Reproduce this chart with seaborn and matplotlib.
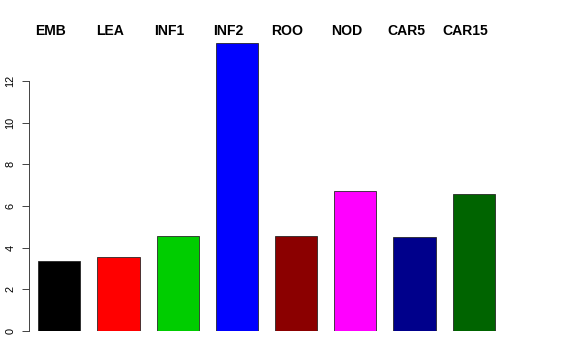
import matplotlib
matplotlib.use("Agg")
import matplotlib.pyplot as plt
import seaborn as sns
import pandas as pd

categories = ["EMB", "LEA", "INF1", "INF2", "ROO", "NOD", "CAR5", "CAR15"]
values = [3.37, 3.55, 4.54, 13.83, 4.56, 6.70, 4.53, 6.60]
colors = ["#000000", "#FF0000", "#00CD00", "#0000FF", "#8B0000", "#FF00FF", "#00008B", "#006400"]
yticks = [0, 2, 4, 6, 8, 10, 12]

sns.set_style("white")
plt.rcParams['font.family'] = ['Liberation Sans', 'DejaVu Sans']
plt.rcParams['text.color'] = 'black'
plt.rcParams['ytick.color'] = 'black'
plt.rcParams['ytick.labelcolor'] = 'black'

df = pd.DataFrame({"cat": categories, "val": values})

fig = plt.figure(figsize=(8, 5), dpi=72)
W, H = 576, 360
left_px, right_px, bottom_px, top_px = 28.5, 560, 331, 31
ax = fig.add_axes([left_px / W, (H - bottom_px) / H, (right_px - left_px) / W, (bottom_px - top_px) / H])

sns.barplot(data=df, x="cat", y="val", hue="cat", palette=colors, width=0.71,
            edgecolor="#222222", linewidth=0.8, legend=False, ax=ax, saturation=1)

unit = 59.2
x0 = 59.3
ax.set_xlim((left_px - x0) / unit, (right_px - x0) / unit)
ax.set_ylim(0, (bottom_px - top_px) / 20.833)

for s in ["top", "right", "bottom"]:
    ax.spines[s].set_visible(False)
ax.spines["left"].set_bounds(0, 12)
ax.spines["left"].set_color("#333333")
ax.spines["left"].set_linewidth(0.9)

ax.set_xticks([])
ax.set_yticks(yticks)
ax.set_yticklabels([str(t) for t in yticks], rotation=90, va="center", fontsize=11, color="black")
ax.tick_params(axis="y", length=7, width=0.9, color="#333333", pad=6, left=True)
ax.set_xlabel("")
ax.set_ylabel("")

for i, c in enumerate(categories):
    ax.text(i - 0.145, 1.0, c, transform=ax.get_xaxis_transform(), ha="center", va="center",
            fontsize=14, fontweight="bold", color="black")

fig.savefig("out.png", dpi=72)
